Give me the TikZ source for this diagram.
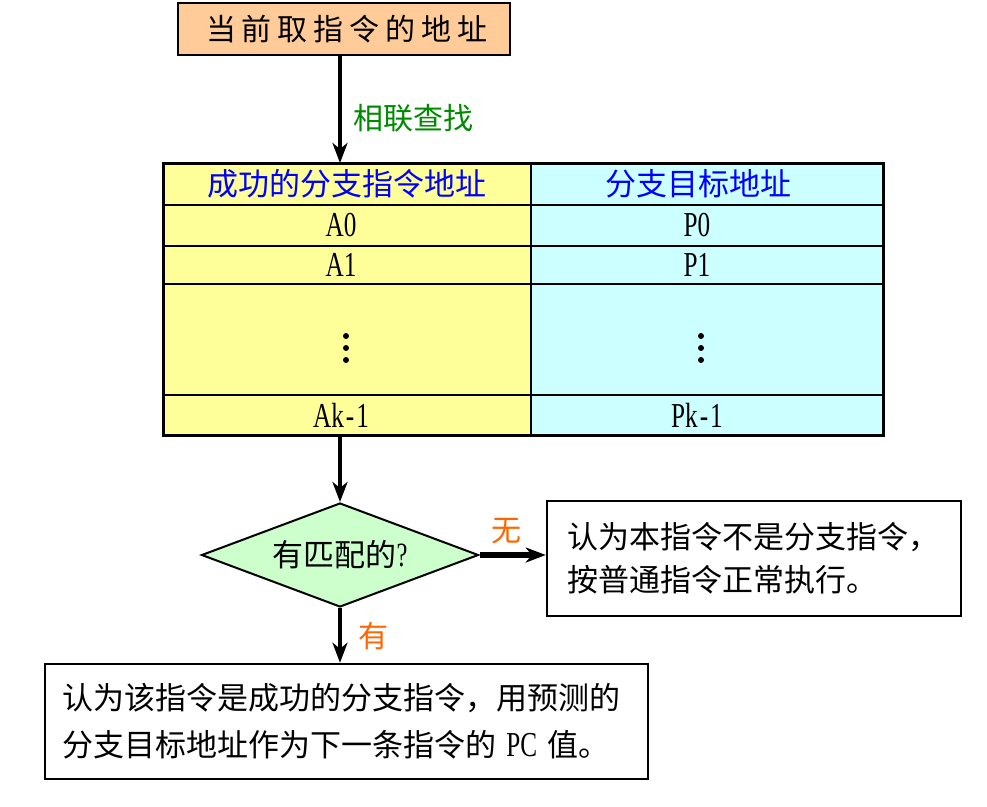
\documentclass[tikz,border=0pt]{standalone}
\usepackage{fontspec}
\setmainfont{Noto Sans CJK SC}
\newfontfamily\latf[FakeStretch=0.72]{Liberation Serif}
\usetikzlibrary{arrows.meta,shapes.geometric,calc}
\definecolor{peach}{HTML}{FFCC99}
\definecolor{yellowc}{HTML}{FFFF99}
\definecolor{cyanc}{HTML}{CCFFFF}
\definecolor{greenf}{HTML}{CCFFCC}
\definecolor{greent}{HTML}{008A00}
\definecolor{bluet}{HTML}{0000FF}
\definecolor{oranget}{HTML}{FF6600}
\newcommand{\shL}[1]{#1\hspace*{12pt}}
\newcommand{\shR}[1]{#1\hspace*{20pt}}
\newcommand{\hy}{\kern2pt-\kern2pt}
\tikzset{
  topbox/.style={draw, fill=peach, line width=2.5pt, minimum width=332pt, minimum height=52pt, inner sep=0pt, font=\fontsize{30}{30}\selectfont},
  cellL/.style={draw, line width=2pt, fill=yellowc, minimum width=368pt, inner sep=0pt, outer sep=0pt},
  cellR/.style={draw, line width=2pt, fill=cyanc, minimum width=352pt, inner sep=0pt, outer sep=0pt},
  hdr/.style={font=\fontsize{31}{31}\selectfont, text=bluet},
  lat/.style={font=\latf\fontsize{35}{35}\selectfont},
  dia/.style={draw, diamond, fill=greenf, line width=2pt, minimum width=277pt, minimum height=104pt, aspect=2.66, inner sep=0pt, font=\fontsize{31}{31}\selectfont},
  txtbox/.style={draw, line width=2.5pt, fill=white, inner xsep=0pt, inner ysep=0pt, align=left},
  lbl/.style={inner sep=0pt, font=\fontsize{30}{30}\selectfont},
  arr/.style={-{Stealth[length=20pt,width=15pt,inset=6pt]}, line width=4.5pt},
  arrh/.style={-{Stealth[length=20pt,width=15pt,inset=6pt]}, line width=5.5pt},
}
\begin{document}
\begin{tikzpicture}[x=1pt,y=-1pt]
\useasboundingbox[fill=white] (0,0) rectangle (987,806);

% top box
\node[topbox] (top) at (344,29) {\hspace*{6pt}当\hspace{6pt}前\hspace{6pt}取\hspace{6pt}指\hspace{6pt}令\hspace{6pt}的\hspace{6pt}地\hspace{6pt}址};

% table
\node[cellL, minimum height=42pt, hdr] (hL) at (347,184) {成功的分支指令地址};
\node[cellR, minimum height=42pt, hdr] (hR) at (707,184) {\hspace*{-18pt}分支目标地址};
\node[cellL, minimum height=41pt, lat] (aL) at (347,225.5) {\shL{A0}};
\node[cellR, minimum height=41pt, lat] (aR) at (707,225.5) {\shR{P0}};
\node[cellL, minimum height=38pt, lat] (bL) at (347,265) {\shL{A1}};
\node[cellR, minimum height=38pt, lat] (bR) at (707,265) {\shR{P1}};
\node[cellL, minimum height=111pt] (mL) at (347,339.5) {};
\node[cellR, minimum height=111pt] (mR) at (707,339.5) {};
\node[cellL, minimum height=40pt, lat] (kL) at (347,415) {\shL{Ak\hy1}};
\node[cellR, minimum height=40pt, lat] (kR) at (707,415) {\shR{Pk\hy1}};
\draw[line width=3pt] (hL.north west) rectangle (kR.south east);
\foreach \dy in {-3.5,8.5,20.5} {
  \fill ($(mL.center)+(-1,\dy)$) circle (3pt);
  \fill ($(mR.center)+(-6,\dy)$) circle (3pt);
}

% diamond and boxes
\node[dia] (dia) at (340,555) {有匹配的{\latf\fontsize{34}{34}\selectfont ?}};
\node[txtbox, minimum width=414pt, minimum height=115pt, text width=374pt,
      font=\fontsize{31}{43}\selectfont] (no) at (754,558.5)
      {认为本指令不是分支指令，\\按普通指令正常执行。};
\node[txtbox, minimum width=603pt, minimum height=115pt, text width=569pt,
      font=\fontsize{31}{47}\selectfont] (yes) at (346.5,721.5)
      {认为该指令是成功的分支指令，用预测的\\分支目标地址作为下一条指令的 {\latf\fontsize{35}{35}\selectfont PC} 值。};

% connectors
\draw[arr] ([xshift=-4pt]top.south) -- ([xshift=-4pt]top.south |- hL.north);
\node[lbl, text=greent, anchor=west] (l1) at (353,118) {相联查找};
\draw[arr] (dia.north |- kL.south) -- (dia.north);
\draw[arrh] (dia.east) -- (dia.east -| no.west);
\node[lbl, text=oranget] (l2) at (506,531) {无};
\draw[arr] (dia.south) -- (dia.south |- yes.north);
\node[lbl, text=oranget] (l3) at (373,636) {有};
\end{tikzpicture}
\end{document}
